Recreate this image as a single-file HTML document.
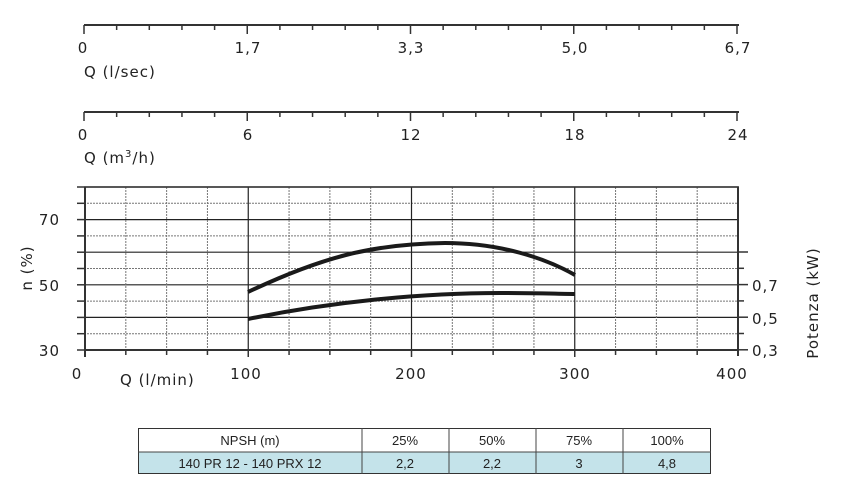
<!DOCTYPE html><html><head><style>body{margin:0;background:#fff}svg{display:block}</style></head><body>
<svg width="842" height="488" xmlns="http://www.w3.org/2000/svg" font-family="DejaVu Sans, sans-serif" fill="#222">
<g stroke="#333" stroke-width="2">
<line x1="84" y1="25" x2="739" y2="25"/><line x1="84" y1="112" x2="739" y2="112"/>
</g>
<g stroke="#333" stroke-width="1.5" id="tk"></g>
<g font-size="15" text-anchor="middle" letter-spacing="1">
<text x="83" y="53">0</text><text x="248" y="53">1,7</text><text x="411" y="53">3,3</text><text x="575" y="53">5,0</text><text x="738" y="53">6,7</text>
<text x="83" y="140">0</text><text x="248" y="140">6</text><text x="411" y="140">12</text><text x="575" y="140">18</text><text x="738" y="140">24</text>
</g>
<text x="84" y="77" font-size="15" letter-spacing="1">Q (l/sec)</text>
<text x="84" y="163" font-size="15" letter-spacing="1">Q (m<tspan font-size="10" dy="-6">3</tspan><tspan dy="6">/h)</tspan></text>
<g id="grid"></g>
<g font-size="15" text-anchor="end" letter-spacing="1"><text x="60" y="225">70</text><text x="60" y="291">50</text><text x="60" y="356">30</text></g>
<text transform="translate(32,268) rotate(-90)" font-size="15" text-anchor="middle" letter-spacing="1">n (%)</text>
<g font-size="15" letter-spacing="1"><text x="752" y="291">0,7</text><text x="752" y="324">0,5</text><text x="752" y="356">0,3</text></g>
<text transform="translate(818,303) rotate(-90)" font-size="15" text-anchor="middle" letter-spacing="1">Potenza (kW)</text>
<g font-size="15" text-anchor="middle" letter-spacing="1"><text x="77" y="379">0</text><text x="246" y="379">100</text><text x="411" y="379">200</text><text x="575" y="379">300</text><text x="732" y="379">400</text></g>
<text x="120" y="385" font-size="15" letter-spacing="1">Q (l/min)</text>
<g fill="none" stroke="#1a1a1a" stroke-width="4">
<path d="M248,292 C320,258 370,244 445,243 C500,243 545,258 575,275"/>
<path d="M248,319 C330,302 420,293 500,293 C540,293 560,294 575,294"/>
</g>
<rect x="138.5" y="428.5" width="572" height="45" fill="#fff" stroke="#333"/>
<rect x="139" y="452" width="571" height="21" fill="#c4e3ea"/>
<g stroke="#444"><line x1="138" y1="452" x2="711" y2="452"/><line x1="362" y1="428" x2="362" y2="474"/><line x1="449" y1="428" x2="449" y2="474"/><line x1="536" y1="428" x2="536" y2="474"/><line x1="623" y1="428" x2="623" y2="474"/></g>
<g font-size="13" text-anchor="middle" font-family="Liberation Sans, sans-serif">
<text x="250" y="445">NPSH (m)</text><text x="405" y="445">25%</text><text x="492" y="445">50%</text><text x="579" y="445">75%</text><text x="667" y="445">100%</text>
<text x="250" y="468">140 PR 12 - 140 PRX 12</text><text x="405" y="468">2,2</text><text x="492" y="468">2,2</text><text x="579" y="468">3</text><text x="667" y="468">4,8</text>
</g>
</svg>
<script>
var ns="http://www.w3.org/2000/svg";
function L(p,a){var e=document.createElementNS(ns,"line");for(var k in a)e.setAttribute(k,a[k]);p.appendChild(e);}
var tk=document.getElementById("tk"),g=document.getElementById("grid");
[25,112].forEach(function(y){for(var i=0;i<=20;i++){var x=84+i*653/20;L(tk,{x1:x,y1:y,x2:x,y2:y+(i%5==0?9:5)});}});
for(var i=0;i<=10;i++){var y=187+i*16.3;var s=(i%2==0);L(g,{x1:84,y1:y,x2:738,y2:y,stroke:s?"#222":"#777","stroke-width":s?1.2:1,"stroke-dasharray":s?"":"2,1"});L(g,{x1:77,y1:y,x2:84,y2:y,stroke:"#333","stroke-width":1.5});}
for(var i=0;i<=16;i++){var x=85+i*653/16;if(i==0||i==16)continue;L(g,{x1:x,y1:187,x2:x,y2:350,stroke:i%4==0?"#222":"#777","stroke-width":i%4==0?1.2:1,"stroke-dasharray":i%4==0?"":"2,1"});L(g,{x1:x,y1:350,x2:x,y2:i%4==0?357:355,stroke:"#333","stroke-width":1.5});}
L(g,{x1:85,y1:187,x2:85,y2:357,stroke:"#333","stroke-width":2});
L(g,{x1:738,y1:187,x2:738,y2:356,stroke:"#333","stroke-width":2});
L(g,{x1:84,y1:350,x2:739,y2:350,stroke:"#333","stroke-width":2});
L(g,{x1:84,y1:187,x2:739,y2:187,stroke:"#333","stroke-width":1.5});
for(var i=0;i<=6;i++){var y=252+i*16.3;L(g,{x1:738,y1:y,x2:i%2==0?748:744,y2:y,stroke:"#333","stroke-width":1.5});}
</script>
</body></html>
